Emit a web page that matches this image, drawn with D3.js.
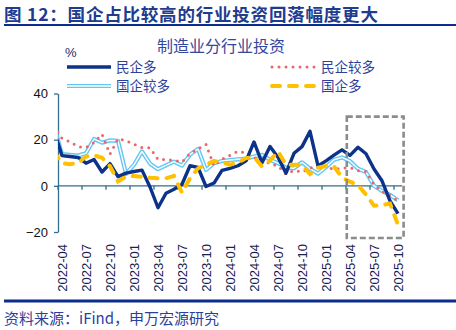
<!DOCTYPE html>
<html>
<head>
<meta charset="utf-8">
<script src="https://cdn.jsdelivr.net/npm/d3@7"></script>
<style>
  html, body { margin: 0; padding: 0; background: #fff; }
  svg { display: block; }
</style>
</head>
<body>
<svg id="chart" width="456" height="330"></svg>
<script>
// Monthly categories (the first month sits just left of the plot and is clipped)
const months = [
  "2022-03","2022-04","2022-05","2022-06","2022-07","2022-08","2022-09","2022-10","2022-11","2022-12",
  "2023-01","2023-02","2023-03","2023-04","2023-05","2023-06","2023-07","2023-08","2023-09","2023-10","2023-11","2023-12",
  "2024-01","2024-02","2024-03","2024-04","2024-05","2024-06","2024-07","2024-08","2024-09","2024-10","2024-11","2024-12",
  "2025-01","2025-02","2025-03","2025-04","2025-05","2025-06","2025-07","2025-08","2025-09","2025-10"
];
const tickMonths = [
  "2022-04","2022-07","2022-10","2023-01","2023-04","2023-07","2023-10",
  "2024-01","2024-04","2024-07","2024-10","2025-01","2025-04","2025-07","2025-10"
];
const yTicks = [-20, 0, 20, 40];

// 民企多
const privMajor = [24, 13.1, 12.7, 12.3, 9.8, 11.4, 6.0, 9.6, 4.0, 5.5, 6.2,
  6.8, -0.5, -9.5, -3.2, -1.5, 0.7, 8.7, 8.0, -0.3, 1.2,
  6.7, 7.6, 8.7, 10.8, 19.0, 10.0, 17.0, 12.4, 5.5, 14.1,
  17.0, 23.6, 8.6, 10.8, 13.3, 15.6, 13.2, 16.7, 13.9, 7.3,
  2.2, -6.5, -12];
// 民企较多
const privMore = [25.8, 20.6, 19.0, 17.0, 16.6, 18.7, 22.4, 13.7, 20.4, 19.6, 18.0,
  16.6, 16.5, 11.4, 11.4, 11.0, 10.3, 14.0, 16.0, 18.0, 8.6,
  11.5, 13.2, 15.0, 14.2, 12.2, 11.5, 9.6, 8.6, 5.1, 6.7,
  6.0, 7.6, 9.1, 8.2, 7.2, 7.6, 7.9, 6.6, 6.2, 0.5,
  -2.5, -4.2, -6.5];
// 国企较多
const stateMore = [26, 13.7, 13.4, 13.1, 14.1, 20.3, 18.7, 19.7, 19.5, 5.2, 9.1,
  14.9, 9.6, 7.2, 8.9, 10.5, 8.8, 13.5, 16.0, 6.9, 9.8,
  10.8, 11.2, 11.5, 11.8, 12.7, 13.4, 11.3, 9.8, 7.9, 7.6,
  10.2, 7.4, 5.3, 8.1, 11.3, 12.3, 10.7, 7.4, 6.0, 0,
  -2.2, -3.9, -6.3];
// 国企多
const stateMajor = [14.8, 9.8, 9.4, 9.8, 12.7, 13.2, 12.2, 8.5, 1.9, 4.0, 4.3,
  3.9, 3.5, 3.3, 3.3, 4.3, -3.0, 3.3, 7.6, 9.1, 10.8,
  10.2, 9.2, 10.0, 12.0, 12.5, 8.4, 11.0, 14.9, 9.1, 9.1,
  9.2, 5.1, 7.8, 8.6, 8.4, 3.6, 1.8, 0.3, -3.8, -8.6,
  -8.4, -7.7, -16.9];

const seriesNames = ["民企多", "民企较多", "国企较多", "国企多"];

const cjk = "'Noto Sans CJK SC', 'Noto Sans', sans-serif";
const latin = "'Liberation Sans', Arial, sans-serif";
const navy = "#0b2d8e";
const textBlue = "#2c3f9c";
const axisColor = "#2f6f8f";

const svg = d3.select("#chart");

// Heading and rules
svg.append("text")
  .attr("x", 4).attr("y", 20.5)
  .attr("font-family", cjk).attr("font-weight", 700).attr("font-size", 17.5)
  .attr("letter-spacing", 0.8)
  .attr("fill", "#213b8f")
  .text("图 12：国企占比较高的行业投资回落幅度更大");
svg.append("line")
  .attr("x1", 4).attr("x2", 456).attr("y1", 25).attr("y2", 25)
  .attr("stroke", navy).attr("stroke-width", 2);
svg.append("line")
  .attr("x1", 4).attr("x2", 456).attr("y1", 301).attr("y2", 301)
  .attr("stroke", navy).attr("stroke-width", 3);
svg.append("text")
  .attr("x", 4).attr("y", 324)
  .attr("font-family", cjk).attr("font-size", 15)
  .attr("fill", textBlue)
  .text("资料来源：iFind，申万宏源研究");

// Chart title and unit
svg.append("text")
  .attr("x", 221).attr("y", 52).attr("text-anchor", "middle")
  .attr("font-family", cjk).attr("font-size", 16)
  .attr("fill", "#34479a")
  .text("制造业分行业投资");
svg.append("text")
  .attr("x", 65).attr("y", 57)
  .attr("font-family", latin).attr("font-size", 13)
  .attr("fill", "#1a2a6a")
  .text("%");

// Scales
const x = d3.scalePoint().domain(months).range([54, 398]);
const step = x.step();
const y = d3.scaleLinear().domain([-20, 40]).range([232, 93.5]);
const plotLeft = x(months[1]) - step / 2;
const plotRight = x(months[months.length - 1]) + step / 2;

// Clip region for the plot area
svg.append("defs").append("clipPath").attr("id", "plotClip")
  .append("rect")
  .attr("x", plotLeft).attr("y", 80)
  .attr("width", plotRight - plotLeft + 4).attr("height", 170);

// Y axis
const yAxis = svg.append("g")
  .attr("transform", `translate(${plotLeft},0)`)
  .call(d3.axisLeft(y).tickValues(yTicks).tickSize(4).tickSizeOuter(0).tickPadding(6));
yAxis.select(".domain").attr("stroke", axisColor).attr("stroke-width", 1.3);
yAxis.selectAll(".tick line").attr("stroke", axisColor).attr("stroke-width", 1.3);
yAxis.selectAll(".tick text")
  .attr("font-family", latin).attr("font-size", 13).attr("fill", "#111");

// X axis line at zero with tick marks between categories
const xAxisG = svg.append("g");
xAxisG.append("line")
  .attr("x1", plotLeft).attr("x2", plotRight)
  .attr("y1", y(0)).attr("y2", y(0))
  .attr("stroke", axisColor).attr("stroke-width", 1.3);
xAxisG.selectAll("line.tk").data(tickMonths).join("line")
  .attr("class", "tk")
  .attr("x1", d => x(d) - step / 2).attr("x2", d => x(d) - step / 2)
  .attr("y1", y(0)).attr("y2", y(0) + 4)
  .attr("stroke", axisColor).attr("stroke-width", 1.3);

// X labels, rotated, placed below the plot
const labelY = y(-20) + 12;
xAxisG.selectAll("text.xl").data(tickMonths).join("text")
  .attr("class", "xl")
  .attr("transform", d => `translate(${x(d)},${labelY}) rotate(-90)`)
  .attr("text-anchor", "end").attr("dy", "0.35em")
  .attr("font-family", latin).attr("font-size", 13)
  .attr("fill", "#1a2250")
  .text(d => d);

// Series lines
const line = d3.line().x((d, i) => x(months[i])).y(d => y(d));
const plot = svg.append("g").attr("clip-path", "url(#plotClip)");

function drawStateMore(g, path) {
  g.append("path").attr("d", path).attr("fill", "none")
    .attr("stroke", "#63c6f5").attr("stroke-width", 4.2).attr("stroke-linejoin", "round");
  g.append("path").attr("d", path).attr("fill", "none")
    .attr("stroke", "#ffffff").attr("stroke-width", 1.4).attr("stroke-linejoin", "round");
}
function drawPrivMore(g, path) {
  g.append("path").attr("d", path).attr("fill", "none")
    .attr("stroke", "#e8686c").attr("stroke-width", 3)
    .attr("stroke-linecap", "round").attr("stroke-dasharray", "0 7");
}
function drawPrivMajor(g, path) {
  g.append("path").attr("d", path).attr("fill", "none")
    .attr("stroke", "#0c3289").attr("stroke-width", 3.4).attr("stroke-linejoin", "round");
}
function drawStateMajor(g, path) {
  g.append("path").attr("d", path).attr("fill", "none")
    .attr("stroke", "#ffc000").attr("stroke-width", 4)
    .attr("stroke-linecap", "round").attr("stroke-dasharray", "8 9");
}

drawStateMore(plot, line(stateMore));
drawPrivMore(plot, line(privMore));
drawPrivMajor(plot, line(privMajor));
drawStateMajor(plot, line(stateMajor));

// Highlight box over the latest months
const boxFrom = 36.6, boxTo = 43.7;   // month positions
const boxTop = 30, boxBottom = -22.6; // value extent
const bx0 = x(months[0]) + boxFrom * step;
const bx1 = x(months[0]) + boxTo * step;
svg.append("rect")
  .attr("x", bx0).attr("y", y(boxTop))
  .attr("width", bx1 - bx0).attr("height", y(boxBottom) - y(boxTop))
  .attr("fill", "none").attr("stroke", "#8c8c8c").attr("stroke-width", 2.6)
  .attr("stroke-dasharray", "6 3");

// Legend (two columns)
const legendItems = [
  { name: seriesNames[0], draw: drawPrivMajor, lx: 67, ly: 67 },
  { name: seriesNames[1], draw: drawPrivMore, lx: 272, ly: 67 },
  { name: seriesNames[2], draw: drawStateMore, lx: 67, ly: 86 },
  { name: seriesNames[3], draw: drawStateMajor, lx: 272, ly: 86 }
];
const legend = svg.append("g");
legendItems.forEach(it => {
  const g = legend.append("g");
  it.draw(g, `M${it.lx},${it.ly}L${it.lx + 44},${it.ly}`);
  g.append("text")
    .attr("x", it.lx + 49).attr("y", it.ly).attr("dy", "0.36em")
    .attr("font-family", cjk).attr("font-size", 13.5)
    .attr("fill", textBlue)
    .text(it.name);
});
</script>
</body>
</html>
